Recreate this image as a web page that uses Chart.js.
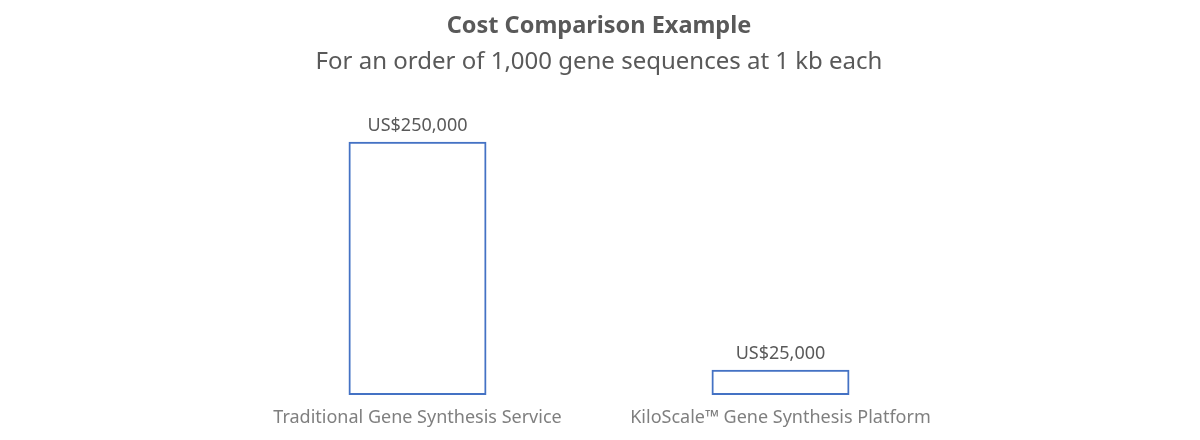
<!DOCTYPE html>
<html>
<head>
<meta charset="utf-8">
<script src="https://cdn.jsdelivr.net/npm/chart.js@4"></script>
<style>
html,body{margin:0;padding:0;background:#fff;}
#wrap{width:1200px;height:440px;}
</style>
</head>
<body>
<div id="wrap"><canvas id="c" width="1200" height="440"></canvas></div>
<script>
const categories = ["Traditional Gene Synthesis Service", "KiloScale\u2122 Gene Synthesis Platform"];
const costs = [250000, 25000];
const valueLabels = ["US$250,000", "US$25,000"];
const titleText = "Cost Comparison Example";
const subtitleText = "For an order of 1,000 gene sequences at 1 kb each";

const FONT = "'Noto Sans', 'Open Sans', sans-serif";

const valueLabelPlugin = {
  id: 'valueLabels',
  afterDatasetsDraw(chart) {
    const ctx = chart.ctx;
    const meta = chart.getDatasetMeta(0);
    ctx.save();
    ctx.font = "18px " + FONT;
    ctx.fillStyle = "#595959";
    ctx.textAlign = "center";
    ctx.textBaseline = "middle";
    meta.data.forEach((bar, i) => {
      ctx.fillText(valueLabels[i], bar.x, bar.y - 16);
    });
    ctx.restore();
  }
};

new Chart(document.getElementById('c'), {
  type: 'bar',
  data: {
    labels: categories,
    datasets: [{
      data: costs,
      backgroundColor: 'rgba(255,255,255,0)',
      borderColor: '#4472C4',
      borderWidth: 2,
      borderSkipped: false,
      barPercentage: 0.475,
      categoryPercentage: 0.8
    }]
  },
  options: {
    responsive: false,
    animation: false,
    devicePixelRatio: 1,
    layout: { padding: { left: 236, right: 238, top: 0, bottom: 0 } },
    plugins: {
      legend: { display: false },
      tooltip: { enabled: false },
      title: {
        display: true,
        text: titleText,
        color: '#595959',
        font: { family: FONT, size: 23.5, weight: 'bold' },
        padding: { top: 12, bottom: 4 }
      },
      subtitle: {
        display: true,
        text: subtitleText,
        color: '#595959',
        font: { family: FONT, size: 24 },
        padding: { top: 4, bottom: 16 }
      }
    },
    scales: {
      x: {
        grid: { display: false, drawTicks: false },
        border: { display: false },
        ticks: { color: '#7f7f7f', font: { family: FONT, size: 18 }, padding: 12 },
        afterFit(scale) { scale.height = 45; }
      },
      y: {
        display: false,
        min: 0,
        max: 298000
      }
    }
  },
  plugins: [valueLabelPlugin]
});
</script>
</body>
</html>
